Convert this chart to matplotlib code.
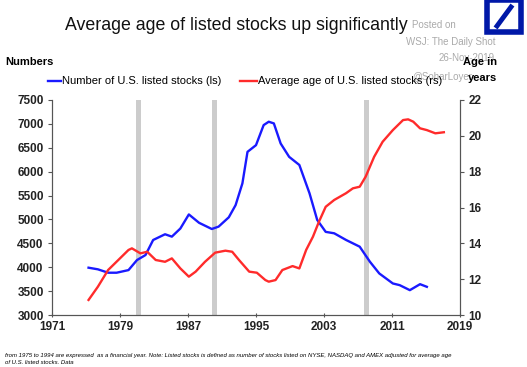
import matplotlib.pyplot as plt
from matplotlib.patches import Rectangle
from matplotlib.lines import Line2D

plt.rcParams['font.family'] = ['Liberation Sans', 'DejaVu Sans']

# number of U.S. listed stocks (left axis)
stock_years = [1975.3, 1976.4, 1977.6, 1978.6, 1980.0, 1981.0, 1982.0, 1982.9, 1984.3,
               1985.1, 1986.1, 1987.1, 1988.3, 1989.8, 1990.6, 1991.8, 1992.6, 1993.4,
               1994.0, 1995.0, 1995.9, 1996.5, 1997.1, 1997.9, 1998.9, 2000.1, 2001.3,
               2002.2, 2003.2, 2004.2, 2005.6, 2007.2, 2008.4, 2009.5, 2011.1, 2011.9,
               2013.1, 2014.3, 2015.1]
stock_count = [3990, 3956, 3885, 3885, 3940, 4150, 4255, 4570, 4690,
               4640, 4810, 5105, 4930, 4800, 4850, 5045, 5300, 5755,
               6415, 6555, 6975, 7045, 7010, 6590, 6310, 6140, 5545,
               4990, 4740, 4710, 4570, 4430, 4115, 3870, 3660, 3625,
               3520, 3645, 3590]

# average age of U.S. listed stocks (right axis)
age_years = [1975.3, 1976.4, 1977.6, 1978.8, 1980.0, 1980.4, 1981.4, 1982.2, 1983.2,
             1984.3, 1985.1, 1986.1, 1987.1, 1987.9, 1989.0, 1990.2, 1991.4, 1992.2,
             1993.0, 1994.2, 1995.1, 1996.1, 1996.5, 1997.3, 1998.1, 1999.3, 2000.1,
             2000.9, 2001.7, 2002.4, 2003.2, 2004.2, 2005.6, 2006.4, 2007.2, 2007.9,
             2008.9, 2009.9, 2011.1, 2012.3, 2012.9, 2013.5, 2014.3, 2015.1, 2016.1,
             2017.1]
avg_age = [10.84, 11.58, 12.51, 13.07, 13.63, 13.72, 13.44, 13.53, 13.07,
           12.97, 13.16, 12.60, 12.14, 12.42, 12.97, 13.48, 13.59, 13.53,
           13.07, 12.42, 12.36, 11.95, 11.86, 11.95, 12.51, 12.73, 12.60,
           13.63, 14.37, 15.20, 16.04, 16.42, 16.80, 17.07, 17.16, 17.72,
           18.83, 19.67, 20.32, 20.88, 20.92, 20.79, 20.42, 20.32, 20.14,
           20.20]

recessions = [1981.2, 1990.1, 2008.0]
x_ticks = [1971, 1979, 1987, 1995, 2003, 2011, 2019]

fig = plt.figure(figsize=(5.27, 3.67), dpi=100)
ax = fig.add_axes([52 / 527, 1 - 315 / 367, 408 / 527, 215 / 367])
ax2 = ax.twinx()

for r in recessions:
    ax.axvspan(r - 0.3, r + 0.3, color='#cccccc', lw=0, zorder=0)

ax.plot(stock_years, stock_count, color='#1a1aff', lw=1.7, zorder=3)
ax2.plot(age_years, avg_age, color='#ff2b2b', lw=1.7, zorder=3)

ax.set_xlim(1971, 2019)
ax.set_ylim(3000, 7500)
ax2.set_ylim(10, 22)
ax.set_xticks(x_ticks)
ax.set_yticks(range(3000, 7501, 500))
ax2.set_yticks(range(10, 23, 2))

for a in (ax, ax2):
    a.spines['top'].set_visible(False)
    for s in ('left', 'right', 'bottom'):
        a.spines[s].set_color('#555555')
ax.tick_params(axis='y', labelsize=8.5, length=3, color='#555555', pad=3)
ax.tick_params(axis='x', labelsize=8.5, length=3, direction='inout', color='#555555', pad=3)
ax2.tick_params(axis='y', labelsize=8.5, length=3, color='#555555', pad=3)
for lab in ax.get_yticklabels() + ax.get_xticklabels() + ax2.get_yticklabels():
    lab.set_fontweight('bold')
    lab.set_color('#222222')

fig.text(236 / 527, 1 - 25 / 367, 'Average age of listed stocks up significantly',
         ha='center', va='center', fontsize=12.8, color='#111111')
fig.text(5 / 527, 1 - 62 / 367, 'Numbers', fontsize=8, fontweight='bold', va='center')
fig.text(497 / 527, 1 - 62 / 367, 'Age in', fontsize=8, fontweight='bold', va='center', ha='right', zorder=5)
fig.text(497 / 527, 1 - 78 / 367, 'years', fontsize=8, fontweight='bold', va='center', ha='right', zorder=5)

# watermark text
fig.text(412 / 527, 1 - 25 / 367, 'Posted on', fontsize=7, color='#aaaaaa', va='center')
fig.text(495 / 527, 1 - 42 / 367, 'WSJ: The Daily Shot', fontsize=7, color='#aaaaaa', va='center', ha='right')
fig.text(495 / 527, 1 - 58 / 367, '26-Nov-2019', fontsize=7, color='#aaaaaa', va='center', ha='right', zorder=1)
fig.text(412 / 527, 1 - 77 / 367, '@SoharLoyer', fontsize=7, color='#aaaaaa', va='center', zorder=1)

# legend
fig.add_artist(Line2D([48 / 527, 61 / 527], [1 - 81 / 367] * 2, color='#1a1aff', lw=1.7))
fig.text(62 / 527, 1 - 81 / 367, 'Number of U.S. listed stocks (ls)', fontsize=8, va='center')
fig.add_artist(Line2D([240 / 527, 257 / 527], [1 - 81 / 367] * 2, color='#ff2b2b', lw=1.7))
fig.text(258 / 527, 1 - 81 / 367, 'Average age of U.S. listed stocks (rs)', fontsize=8, va='center')

# logo
fig.add_artist(Rectangle((487 / 527, 1 - 32 / 367), 34 / 527, 32 / 367,
                         transform=fig.transFigure, fill=False, ec='#0018a8', lw=4))
fig.add_artist(Line2D([497 / 527, 511 / 527], [1 - 26 / 367, 1 - 7 / 367],
                      color='#0018a8', lw=3.5))

fig.text(5 / 527, 1 - 355 / 367,
         'from 1975 to 1994 are expressed  as a financial year. Note: Listed stocks is defined as number of stocks listed on NYSE, NASDAQ and AMEX adjusted for average age',
         fontsize=4.3, style='italic', va='center')
fig.text(5 / 527, 1 - 363 / 367, 'of U.S. listed stocks. Data',
         fontsize=4.3, style='italic', va='center')

fig.savefig('out.png', dpi=100)
